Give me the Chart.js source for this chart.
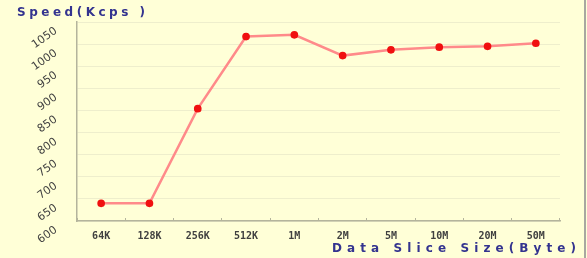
<!DOCTYPE html>
<html>
<head>
<meta charset="utf-8">
<script src="https://cdn.jsdelivr.net/npm/chart.js@4/dist/chart.umd.min.js"></script>
<style>
  html, body { margin: 0; padding: 0; background: #FFFFD7; }
  #wrap { position: relative; width: 587px; height: 258px; background: #FFFFD7; }
  #wrap::after { content: ''; position: absolute; right: 1px; top: 0; width: 2px; height: 258px; background: #A8A8A0; }
</style>
</head>
<body>
<div id="wrap"><canvas id="chart" width="587" height="258"></canvas></div>
<script>
// ── Data ──────────────────────────────────────────────────────────────────────
const sliceSizes = ['64K', '128K', '256K', '512K', '1M', '2M', '5M', '10M', '20M', '50M'];
const speedKcps  = [640, 640, 854, 1017, 1021, 974, 987, 993, 995, 1002];
const yTicks     = [600, 650, 700, 750, 800, 850, 900, 950, 1000, 1050];

const yTitle = 'Speed(Kcps )';
const xTitle = 'Data Slice Size(Byte)';

const TITLE_COLOR = '#33338F';
const TICK_COLOR  = '#404040';
const AXIS_COLOR  = '#B4B49C';

// caption with wide tracking: each glyph advanced by its width plus a gap
function spacedCaption(ctx, text, x, y, width) {
  const w = ctx.measureText(text).width;
  const gap = (width - w) / (text.length - 1);
  for (const ch of text) {
    ctx.fillText(ch, x, y);
    x += ctx.measureText(ch).width + gap;
  }
}

// slanted y tick labels, placed from the y scale's own ticks
const slantedYLabels = {
  id: 'slantedYLabels',
  afterDraw(chart) {
    const ctx = chart.ctx, y = chart.scales.y;
    ctx.save();
    ctx.fillStyle = TICK_COLOR;
    ctx.font = '11px "DejaVu Sans"';
    ctx.textAlign = 'right';
    ctx.textBaseline = 'middle';
    y.ticks.forEach(t => {
      ctx.save();
      ctx.translate(y.right - 21, y.getPixelForValue(t.value) + 8);
      ctx.rotate(-35 * Math.PI / 180);
      ctx.fillText(String(t.value), 0, 0);
      ctx.restore();
    });
    ctx.restore();
  }
};

const captions = {
  id: 'captions',
  afterDraw(chart) {
    const ctx = chart.ctx;
    ctx.save();
    ctx.fillStyle = TITLE_COLOR;
    ctx.font = 'bold 12px "DejaVu Sans"';
    ctx.textBaseline = 'middle';
    ctx.textAlign = 'left';
    spacedCaption(ctx, yTitle, 17, 13, 128);
    spacedCaption(ctx, xTitle, 332, 249, 244);
    ctx.restore();
  }
};

new Chart(document.getElementById('chart'), {
  type: 'line',
  data: {
    labels: sliceSizes,
    datasets: [{
      data: speedKcps,
      borderColor: '#FF8A8A',
      borderWidth: 2.5,
      pointBackgroundColor: '#F01010',
      pointBorderColor: '#F01010',
      pointRadius: 2.6,
      tension: 0,
      fill: false,
    }]
  },
  options: {
    responsive: false,
    animation: false,
    layout: { padding: { left: 0, top: 22, right: 27, bottom: 0 } },
    plugins: { legend: { display: false }, tooltip: { enabled: false } },
    scales: {
      x: {
        offset: true,
        grid: { offset: true, drawOnChartArea: false, drawTicks: true, tickLength: -3, tickColor: AXIS_COLOR },
        border: { color: AXIS_COLOR, width: 1.5 },
        ticks: { color: TICK_COLOR, padding: 12, maxRotation: 0, font: { family: 'DejaVu Sans Mono', weight: 'bold', size: 10 } },
        afterFit(scale) { scale.height = 37; },
      },
      y: {
        min: yTicks[0], max: yTicks[yTicks.length - 1],
        afterBuildTicks(scale) { scale.ticks = yTicks.map(v => ({ value: v })); },
        grid: { color: '#EEEECC', lineWidth: 1, drawTicks: false },
        border: { color: AXIS_COLOR, width: 1.5 },
        ticks: { display: false },
        afterFit(scale) { scale.width = 77; },
      }
    }
  },
  plugins: [captions, slantedYLabels]
});
</script>
</body>
</html>
